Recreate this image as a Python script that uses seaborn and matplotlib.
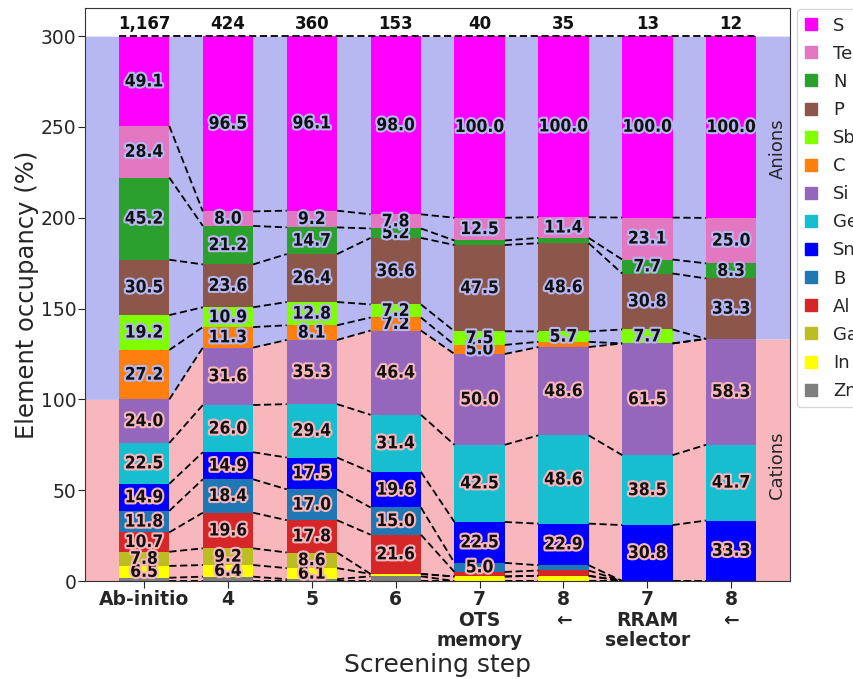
import numpy as np
import pandas as pd
import matplotlib
matplotlib.use("Agg")
import matplotlib.pyplot as plt
import matplotlib.patheffects as pe
from matplotlib.lines import Line2D
import seaborn as sns

# ---------------- data ----------------
steps = ["Ab-initio", "4", "5", "6", "7\nOTS\nmemory", "8\n←", "7\nRRAM\nselector", "8\n←"]
counts = ["1,167", "424", "360", "153", "40", "35", "13", "12"]

# cations (bottom -> top)
Zn = [1.8, 2.4, 1.0, 2.6, 0.0, 0.0, 0.0, 0.0]
In = [6.5, 6.4, 6.1, 1.3, 2.5, 2.9, 0.0, 0.0]
Ga = [7.8, 9.2, 8.6, 0.0, 0.0, 0.0, 0.0, 0.0]
Al = [10.7, 19.6, 17.8, 21.6, 2.5, 2.9, 0.0, 0.0]
B = [11.8, 18.4, 17.0, 15.0, 5.0, 2.9, 0.0, 0.0]
Sn = [14.9, 14.9, 17.5, 19.6, 22.5, 22.9, 30.8, 33.3]
Ge = [22.5, 26.0, 29.4, 31.4, 42.5, 48.6, 38.5, 41.7]
Si = [24.0, 31.6, 35.3, 46.4, 50.0, 48.6, 61.5, 58.3]
# anions (bottom -> top)
C = [27.2, 11.3, 8.1, 7.2, 5.0, 2.9, 0.0, 0.0]
Sb = [19.2, 10.9, 12.8, 7.2, 7.5, 5.7, 7.7, 0.0]
P = [30.5, 23.6, 26.4, 36.6, 47.5, 48.6, 30.8, 33.3]
N = [45.2, 21.2, 14.7, 5.2, 2.5, 2.9, 7.7, 8.3]
Te = [28.4, 8.0, 9.2, 7.8, 12.5, 11.4, 23.1, 25.0]
S = [49.1, 96.5, 96.1, 98.0, 100.0, 100.0, 100.0, 100.0]

cations = {"Zn": Zn, "In": In, "Ga": Ga, "Al": Al, "B": B, "Sn": Sn, "Ge": Ge, "Si": Si}
anions = {"C": C, "Sb": Sb, "P": P, "N": N, "Te": Te, "S": S}

colors = {
    "S": "#ff00ff", "Te": "#e377c2", "N": "#2ca02c", "P": "#8c564b",
    "Sb": "#7fff00", "C": "#ff7f0e", "Si": "#9467bd", "Ge": "#17becf",
    "Sn": "#0000ff", "B": "#1f77b4", "Al": "#d62728", "Ga": "#bcbd22",
    "In": "#ffff00", "Zn": "#7f7f7f",
}
PINK = "#f7b7bd"
LAV = "#b7b7f2"

# ---------------- style ----------------
sns.set_style("white")
plt.rcParams["font.family"] = ["DejaVu Sans"]

stack_order = list(cations) + list(anions)          # bottom -> top
legend_order = stack_order[::-1]                      # top -> bottom
all_vals = {**cations, **anions}

rows = []
for e in stack_order:
    for i, v in enumerate(all_vals[e]):
        rows.append({"pos": i, "element": e, "value": v})
df = pd.DataFrame(rows)

fig, ax = plt.subplots(figsize=(8.54, 6.79), dpi=100)
fig.subplots_adjust(left=0.1, right=0.925, top=0.988, bottom=0.1443)

n = len(steps)
hw = 0.3
cat_tot = np.sum([cations[e] for e in cations], axis=0)
totals = np.sum([all_vals[e] for e in stack_order], axis=0)
top = round(float(totals.max()))
xl, xr = -0.7, n - 1 + 0.7

# background regions
xs, ys = [xl], [cat_tot[0]]
for i in range(n):
    xs += [i - hw, i + hw]
    ys += [cat_tot[i], cat_tot[i]]
xs.append(xr)
ys.append(cat_tot[-1])
ax.fill_between(xs, 0, ys, color=PINK, lw=0, zorder=0)
ax.fill_between(xs, ys, top, color=LAV, lw=0, zorder=0)

# stacked bars
sns.histplot(data=df, x="pos", weights="value", hue="element",
             hue_order=legend_order, palette=colors, multiple="stack",
             discrete=True, shrink=0.6, alpha=1, linewidth=0,
             legend=False, ax=ax, zorder=2)

# cumulative boundaries
cum = np.vstack([np.zeros(n), np.cumsum([all_vals[e] for e in stack_order], axis=0)])

# dashed connectors
for i in range(n - 1):
    for k in range(cum.shape[0] - 1):
        ax.plot([i + hw, i + 1 - hw], [cum[k, i], cum[k, i + 1]], color="k",
                ls=(0, (4, 2)), lw=1.3, zorder=3)
ax.plot([-hw, n - 1 + hw], [top, top], color="k", ls=(0, (4, 2)), lw=1.3, zorder=3)

# segment labels
for i in range(n):
    for k, e in enumerate(stack_order):
        v = all_vals[e][i]
        if v >= 4:
            bg = PINK if e in cations else LAV
            ax.text(i, cum[k, i] + v / 2, f"{v:.1f}", ha="center", va="center",
                    fontsize=12.5, fontweight="bold", fontstretch="condensed",
                    color="#111111", zorder=4,
                    path_effects=[pe.withStroke(linewidth=3, foreground=bg)])
    ax.text(i, top + 1.5, counts[i], ha="center", va="bottom", fontsize=12,
            fontweight="bold", color="#111111", zorder=4)

ax.text(7.55, 238, "Anions", rotation=90, ha="center", va="center",
        fontsize=13, zorder=4)
ax.text(7.55, 64, "Cations", rotation=90, ha="center", va="center",
        fontsize=13, zorder=4)

ax.set_xlim(xl, xr)
ax.set_ylim(0, 315.4)
ax.set_xticks(range(n))
ax.set_xticklabels(steps, fontweight="bold", fontsize=13.5, linespacing=1.1)
ax.set_yticks(range(0, 301, 50))
ax.tick_params(axis="y", labelsize=13.5)
ax.tick_params(direction="out", length=5, pad=1.5, left=True, bottom=True, width=0.8)
ax.set_ylabel("Element occupancy (%)", fontsize=17.5, labelpad=1)
ax.set_xlabel("Screening step", fontsize=18, labelpad=2)
for s in ax.spines.values():
    s.set_color("#333333")

handles = [Line2D([], [], marker="s", ls="", color=colors[e], markersize=8)
           for e in legend_order]
ax.legend(handles, legend_order, loc="upper left", bbox_to_anchor=(1.01, 0.998),
          fontsize=13, handlelength=0.8, handletextpad=0.8, labelspacing=0.56,
          borderaxespad=0, frameon=True)

fig.savefig("out.png", dpi=100)
